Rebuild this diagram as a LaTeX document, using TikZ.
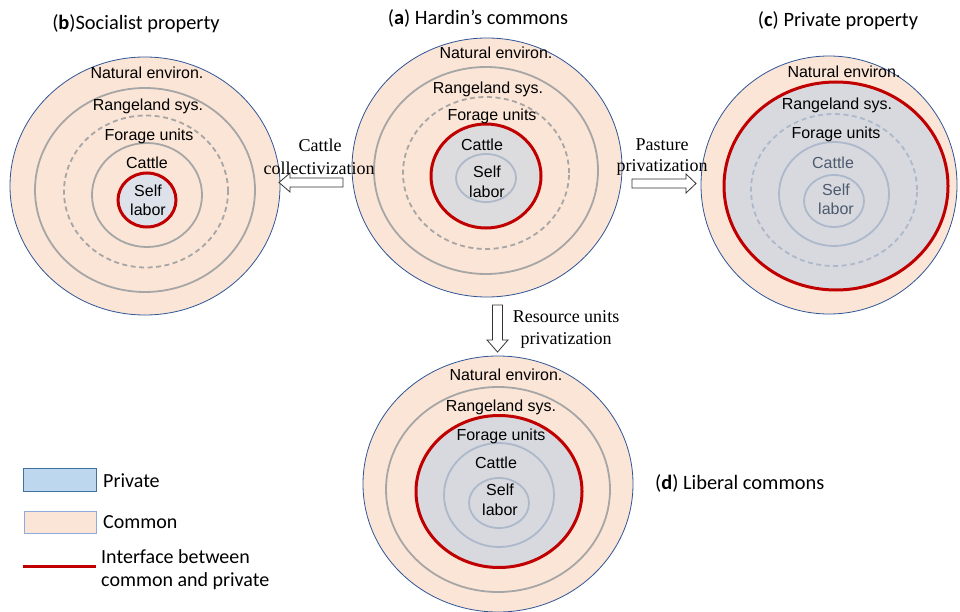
\documentclass[tikz,border=0pt]{standalone}
\usepackage{fontspec}
\newfontfamily\arifont{Liberation Sans}
\newfontfamily\tmsfont{Liberation Serif}
\newfontfamily\calfont{Carlito}
\definecolor{commonc}{HTML}{FBE5D6}
\definecolor{privc}{HTML}{D7D9DF}
\definecolor{privagray}{HTML}{DCDCDE}
\definecolor{selfb}{HTML}{DDE1EA}
\definecolor{outerc}{HTML}{2F5597}
\definecolor{ringgray}{HTML}{A6A6A6}
\definecolor{ringblue}{HTML}{ADB9CA}
\definecolor{redc}{HTML}{C00000}
\definecolor{legpriv}{HTML}{BDD7EE}
\definecolor{legprivb}{HTML}{41719C}
\definecolor{legcomb}{HTML}{8FAADC}
\definecolor{dimtext}{HTML}{4D5A6E}
\begin{document}
\begin{tikzpicture}[x=1pt,y=-1pt,
  lbl/.style={font=\arifont\fontsize{16}{18}\selectfont, inner sep=0pt, text height=11.2pt, text depth=0pt},
  ttl/.style={font=\calfont\fontsize{20.4}{23}\selectfont, inner sep=0pt, text height=14pt, text depth=0pt},
  arrlbl/.style={font=\tmsfont\fontsize{18}{20}\selectfont, inner sep=0pt, text height=12.4pt, text depth=0pt},
  legtxt/.style={font=\calfont\fontsize{20}{23}\selectfont, inner sep=0pt, text height=13.6pt, text depth=0pt, anchor=west},
  outerline/.style={draw=outerc, line width=0.8pt},
  ring/.style={draw=ringgray, line width=1.8pt},
  pring/.style={draw=ringblue, line width=1.8pt},
  redring/.style={draw=redc, line width=3pt},
  dashring/.style={dash pattern=on 5pt off 3.5pt},
  blockarrow/.style={draw=black!80, line width=0.8pt, fill=white, line join=miter}
]
\useasboundingbox (0,0) rectangle (960,612);

% ---------------- (a) Hardin's commons ----------------
\fill[commonc] (487,167.5) ellipse [x radius=135pt, y radius=129.5pt];
\fill[privagray] (486,176) ellipse [x radius=55pt, y radius=52pt];
\draw[outerline] (487,167.5) ellipse [x radius=135pt, y radius=129.5pt];
\draw[ring] (486,170.5) ellipse [x radius=112pt, y radius=103.5pt];
\draw[ring,dashring] (486,173) ellipse [x radius=83pt, y radius=76pt];
\draw[redring] (486,176) ellipse [x radius=55pt, y radius=52pt];
\draw[pring] (486,178) ellipse [x radius=30pt, y radius=24pt];
\node[lbl] (aNat) at (496,53) {Natural environ.};
\node[lbl] (aRan) at (488,88) {Rangeland sys.};
\node[lbl] (aFor) at (492,115) {Forage units};
\node[lbl] (aCat) at (482,145) {Cattle};
\node[lbl] (aSelf) at (487,172) {Self};
\node[lbl] (aLab) at (487,192) {labor};
\node[ttl] (aTtl) at (478,18) {(\textbf{a}) Hardin’s commons};

% ---------------- (b) Socialist property ----------------
\fill[commonc] (145,186) ellipse [x radius=135pt, y radius=129pt];
\fill[selfb] (147,200) ellipse [x radius=29pt, y radius=27pt];
\draw[outerline] (145,186) ellipse [x radius=135pt, y radius=129pt];
\draw[ring] (145,190) ellipse [x radius=110pt, y radius=102pt];
\draw[ring,dashring] (146,191.5) ellipse [x radius=82pt, y radius=76pt];
\draw[ring] (147,195) ellipse [x radius=55pt, y radius=52pt];
\draw[redring] (147,200) ellipse [x radius=29pt, y radius=27pt];
\node[lbl] (bNat) at (147,73) {Natural environ.};
\node[lbl] (bRan) at (148,105) {Rangeland sys.};
\node[lbl] (bFor) at (149,135) {Forage units};
\node[lbl] (bCat) at (147,163) {Cattle};
\node[lbl] (bSelf) at (148,191) {Self};
\node[lbl] (bLab) at (148,210) {labor};
\node[ttl] (bTtl) at (136,23) {(\textbf{b})Socialist property};

% ---------------- (c) Private property ----------------
\fill[commonc] (829,185) ellipse [x radius=128pt, y radius=129pt];
\fill[privc] (836,186) ellipse [x radius=112pt, y radius=104pt];
\draw[outerline] (829,185) ellipse [x radius=128pt, y radius=129pt];
\draw[redring] (836,186) ellipse [x radius=112pt, y radius=104pt];
\draw[pring,dashring] (834,190) ellipse [x radius=83pt, y radius=76pt];
\draw[pring] (834,194) ellipse [x radius=55pt, y radius=52pt];
\draw[pring] (834,201) ellipse [x radius=30pt, y radius=26pt];
\node[lbl] (cNat) at (844,72) {Natural environ.};
\node[lbl] (cRan) at (837,104) {Rangeland sys.};
\node[lbl] (cFor) at (836,133) {Forage units};
\node[lbl, text=dimtext] (cCat) at (833,163) {Cattle};
\node[lbl, text=dimtext] (cSelf) at (836,190) {Self};
\node[lbl, text=dimtext] (cLab) at (836,209) {labor};
\node[ttl] (cTtl) at (838,20) {(\textbf{c}) Private property};

% ---------------- (d) Liberal commons ----------------
\fill[commonc] (498,484) ellipse [x radius=135pt, y radius=128pt];
\fill[privc] (499,491.5) ellipse [x radius=83pt, y radius=76pt];
\draw[outerline] (498,484) ellipse [x radius=135pt, y radius=128pt];
\draw[ring] (498,489.5) ellipse [x radius=112pt, y radius=102.5pt];
\draw[redring] (499,491.5) ellipse [x radius=83pt, y radius=76pt];
\draw[pring] (499,495) ellipse [x radius=55pt, y radius=52pt];
\draw[pring] (499,503) ellipse [x radius=30pt, y radius=25pt];
\node[lbl] (dNat) at (506,375) {Natural environ.};
\node[lbl] (dRan) at (501,406) {Rangeland sys.};
\node[lbl] (dFor) at (501,435) {Forage units};
\node[lbl] (dCat) at (496,463) {Cattle};
\node[lbl] (dSelf) at (500,490) {Self};
\node[lbl] (dLab) at (500,510) {labor};
\node[ttl, anchor=west] (dTtl) at (655,482) {(\textbf{d}) Liberal commons};

% ---------------- block arrows ----------------
% left: cattle collectivization
\draw[blockarrow] (343,178) -- (290,178) -- (290,173) -- (279,182.5) -- (290,192) -- (290,187) -- (343,187) -- cycle;
\node[arrlbl] (collA) at (320,145) {Cattle};
\node[arrlbl] (collB) at (319,168) {collectivization};
% right: pasture privatization
\draw[blockarrow] (632,179) -- (686,179) -- (686,174) -- (696,183.5) -- (686,193) -- (686,188) -- (632,188) -- cycle;
\node[arrlbl] (pasA) at (662,144) {Pasture};
\node[arrlbl] (pasB) at (662,165) {privatization};
% down: resource units privatization
\draw[blockarrow] (492.5,305) -- (492.5,340) -- (487,340) -- (497.5,352) -- (508,340) -- (502.5,340) -- (502.5,305) -- cycle;
\node[arrlbl] (resA) at (566,316) {Resource units};
\node[arrlbl] (resB) at (566,338) {privatization};

% ---------------- legend ----------------
\draw[fill=legpriv, draw=legprivb, line width=0.8pt] (23,468) rectangle (96,491);
\node[legtxt] (legP) at (103,481) {Private};
\draw[fill=commonc, draw=legcomb, line width=0.8pt] (24,511) rectangle (96,533);
\node[legtxt] (legC) at (103,522) {Common};
\coordinate (legL) at (23,566);
\coordinate (legR) at (96,566);
\draw[redc, line width=3pt] (legL) -- (legR);
\node[legtxt] (legI1) at (101,557) {Interface between};
\node[legtxt] (legI2) at (101,580) {common and private};
\end{tikzpicture}
\end{document}
